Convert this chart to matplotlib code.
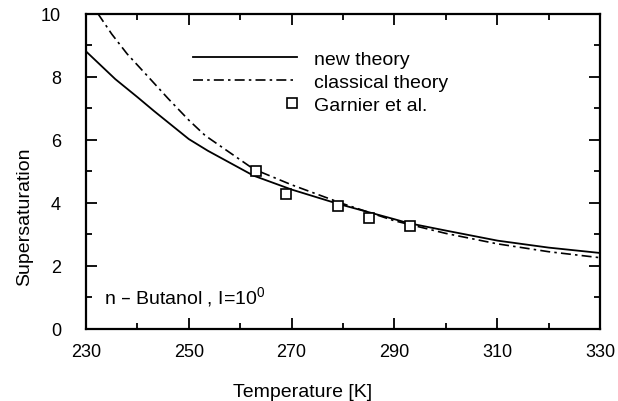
import numpy as np
import matplotlib.pyplot as plt
from matplotlib.legend_handler import HandlerLine2D

plt.rcParams["font.family"] = ["Liberation Sans", "DejaVu Sans"]
plt.rcParams["mathtext.default"] = "regular"

# new theory (solid)
t_new = [230, 235.7, 240, 243.3, 250, 253.7, 262.6, 270, 279.2, 290, 292.6, 300, 310.1, 320, 330]
s_new = [8.8, 7.92, 7.35, 6.9, 6.02, 5.65, 4.86, 4.42, 3.96, 3.48, 3.36, 3.12, 2.80, 2.58, 2.41]

# classical theory (dash-dot)
t_cls = [232.3, 235, 238.0, 241.9, 246, 250, 253.2, 262.6, 270, 280, 290, 300, 310, 320, 330]
s_cls = [10.0, 9.35, 8.72, 8.03, 7.3, 6.62, 6.13, 5.07, 4.57, 3.97, 3.43, 3.03, 2.70, 2.45, 2.26]

# Garnier et al. measurements
t_exp = [263, 269, 279, 285, 293]
s_exp = [5.02, 4.28, 3.91, 3.53, 3.26]


class RightMarker(HandlerLine2D):
    # single marker drawn at the right end of the handle
    def get_xdata(self, legend, xdescent, ydescent, width, height, fontsize):
        x = -xdescent + width - 0.3 * fontsize
        return [x - 0.5, x + 0.5], [x]


fig = plt.figure(figsize=(6.18, 4.02), dpi=100)
ax = fig.add_axes([86 / 618, 1 - 330 / 402, 514 / 618, 315.5 / 402])

ax.plot(t_new, s_new, color="black", linewidth=1.3, label="new theory")
ax.plot(t_cls, s_cls, color="black", linewidth=1.2, dashes=(6, 2.5, 1.5, 2.5), label="classical theory")
pts, = ax.plot(t_exp, s_exp, linestyle="none", marker="s", markersize=6.5, markerfacecolor="white",
               markeredgecolor="black", markeredgewidth=1.2, label="Garnier et al.")

ax.set_xlim(230, 330)
ax.set_ylim(0, 10)
ax.set_xticks(np.arange(230, 331, 20))
ax.set_xticks(np.arange(240, 330, 20), minor=True)
ax.set_yticks(np.arange(0, 11, 2))
ax.set_yticks(np.arange(1, 10, 2), minor=True)

ax.tick_params(which="both", direction="in", top=True, right=True, width=1.3, labelsize=13)
ax.tick_params(which="major", length=8)
ax.tick_params(which="minor", length=4)
ax.tick_params(axis="x", pad=10)
ax.tick_params(axis="y", pad=18)
for sp in ax.spines.values():
    sp.set_linewidth(1.6)

ax.set_xlabel("Temperature [K]", fontsize=14)
ax.xaxis.set_label_coords(0.421, -0.17)
ax.set_ylabel("Supersaturation", fontsize=14)
ax.yaxis.set_label_coords(-0.102, 0.358)

ax.text(233.5, 1.05, "n – Butanol , I=10$^0$", fontsize=14, va="center")

ax.legend(loc="upper left", bbox_to_anchor=(0.19, 0.915), frameon=False, fontsize=14,
          handlelength=5.35, handletextpad=0.85, labelspacing=0.28, borderpad=0,
          handler_map={pts: RightMarker()})

plt.savefig("out.png", dpi=100)
